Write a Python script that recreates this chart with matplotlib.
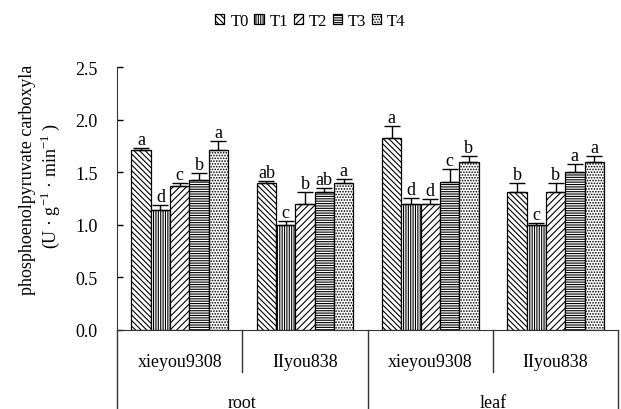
import numpy as np
import matplotlib
matplotlib.use('Agg')
import matplotlib.pyplot as plt

plt.rcParams['font.family'] = ['Liberation Serif', 'DejaVu Serif']
plt.rcParams['mathtext.fontset'] = 'custom'
plt.rcParams['mathtext.rm'] = 'Liberation Serif'
plt.rcParams['hatch.linewidth'] = 0.8

# PEPC activity per treatment, groups: root/xieyou9308, root/IIyou838, leaf/xieyou9308, leaf/IIyou838
cultivars = ['xieyou9308', 'IIyou838', 'xieyou9308', 'IIyou838']
organs = ['root', 'leaf']
treatments = ['T0', 'T1', 'T2', 'T3', 'T4']
means = [
    [1.71, 1.40, 1.83, 1.31],   # T0
    [1.14, 1.00, 1.20, 1.00],   # T1
    [1.37, 1.20, 1.20, 1.31],   # T2
    [1.43, 1.31, 1.41, 1.50],   # T3
    [1.71, 1.40, 1.60, 1.60],   # T4
]
errs = [
    [0.02, 0.02, 0.11, 0.09],
    [0.05, 0.04, 0.06, 0.02],
    [0.03, 0.11, 0.05, 0.09],
    [0.06, 0.04, 0.12, 0.08],
    [0.09, 0.04, 0.06, 0.06],
]
letters = [
    ['a', 'ab', 'a', 'b'],
    ['d', 'c', 'd', 'c'],
    ['c', 'b', 'd', 'b'],
    ['b', 'ab', 'c', 'a'],
    ['a', 'a', 'b', 'a'],
]
hatches = ['\\' * 6, '|' * 7, '/' * 5, '-' * 7, '.' * 6]

fig = plt.figure(figsize=(6.21, 4.10), dpi=100)
ax = fig.add_axes([0.1885, 0.193, 0.807, 0.64])

x = np.arange(len(cultivars))
w = 0.154
for i, t in enumerate(treatments):
    pos = x + (i - 2) * w
    ax.bar(pos, means[i], w, color='white', edgecolor='black', linewidth=0.9,
           hatch=hatches[i], label=t, zorder=2)
    lo = np.zeros(len(cultivars))
    ax.errorbar(pos, means[i], yerr=[lo, errs[i]], fmt='none', ecolor='black',
                elinewidth=1, capsize=6, capthick=1, zorder=3)
    for p, m, e, s in zip(pos, means[i], errs[i], letters[i]):
        ax.annotate(s, (p, m + e), xytext=(0, 0), textcoords='offset points',
                    ha='center', va='bottom', fontsize=13)

ax.set_xlim(-0.5, 3.5)
ax.set_ylim(0, 2.5)
ax.set_yticks(np.arange(0, 2.51, 0.5))
ax.set_yticklabels(['%.1f' % v for v in np.arange(0, 2.51, 0.5)], fontsize=13)
ax.tick_params(axis='y', direction='in', length=4, pad=14, width=1)
ax.set_xticks([])
for side in ['top', 'right']:
    ax.spines[side].set_visible(False)
ax.spines['left'].set_color('#333333')
ax.spines['bottom'].set_color('#333333')

# two-level category axis
tr = ax.get_xaxis_transform()
for xs in [0.5, 2.5]:
    ax.plot([xs, xs], [0, -0.16], transform=tr, color='#333333', lw=1, clip_on=False)
for xs in [-0.5, 1.5, 3.5]:
    ax.plot([xs, xs], [0, -0.31], transform=tr, color='#333333', lw=1, clip_on=False)
for xi, c in zip(x, cultivars):
    ax.text(xi, -0.122, c, transform=tr, ha='center', va='center', fontsize=13)
for j, o in enumerate(organs):
    ax.text(0.5 + 2 * j, -0.275, o, transform=tr, ha='center', va='center', fontsize=13)

fig.text(0.044, 0.561, 'phosphoenolpyruvate carboxyla', rotation=90,
         ha='center', va='center', fontsize=13)
fig.text(0.081, 0.546, '(U · g$^{-1}$ · min$^{-1}$ )', rotation=90,
         ha='center', va='center', fontsize=13)

fig.legend(loc='center', bbox_to_anchor=(0.5, 0.946), ncol=5, frameon=False,
           fontsize=12, handlelength=0.55, handleheight=0.55, handletextpad=0.35,
           columnspacing=0.35)

fig.savefig('out.png', dpi=100)
